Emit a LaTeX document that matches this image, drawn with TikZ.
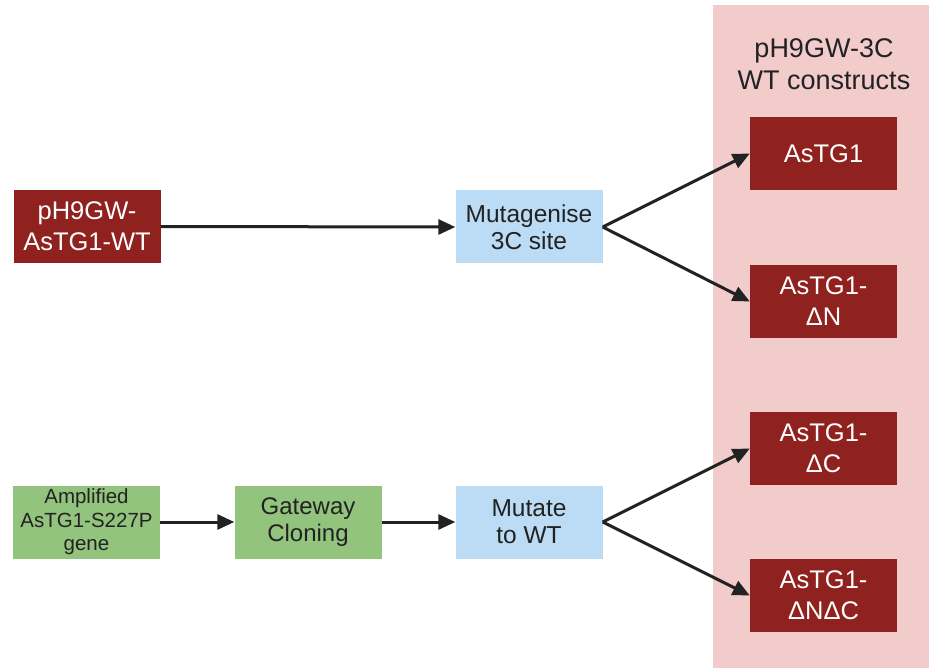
\documentclass[tikz,border=0pt]{standalone}
\usepackage{fontspec}
\setmainfont{Liberation Sans}
\usetikzlibrary{arrows.meta}
\definecolor{dred}{HTML}{8F211F}
\definecolor{pinkbg}{HTML}{F2CBCB}
\definecolor{lblue}{HTML}{BBDCF4}
\definecolor{lgreen}{HTML}{93C47D}
\definecolor{ink}{HTML}{222222}
\tikzset{
  box/.style={rectangle, inner sep=0pt, minimum width=147pt, minimum height=73pt, align=center},
  redbox/.style={box, fill=dred, text=white, font=\fontsize{25.5}{31}\selectfont},
  bluebox/.style={box, fill=lblue, text=ink, font=\fontsize{24.5}{27}\selectfont},
  greenbox/.style={box, fill=lgreen, text=ink, font=\fontsize{24}{27}\selectfont},
  arr/.style={draw=ink, line width=3pt, -{Triangle[length=17pt,width=15pt]}}
}
\begin{document}
\begin{tikzpicture}[x=1pt,y=-1pt]
\useasboundingbox (0,0) rectangle (929,668);
\fill[pinkbg] (713,5) rectangle (929,668);
\node[align=center, text=ink, font=\fontsize{27}{32}\selectfont] (title) at (824,64) {pH9GW-3C\\WT constructs};
\node[redbox] (a1) at (823.5,153.5) {AsTG1};
\node[redbox] (dn) at (823.5,301.5) {AsTG1-\\ΔN};
\node[redbox] (dc) at (823.5,448.5) {AsTG1-\\ΔC};
\node[redbox] (dnc) at (823.5,595.5) {AsTG1-\\ΔNΔC};
\node[redbox] (wt) at (87,226.5) {pH9GW-\\AsTG1-WT};
\node[bluebox] (mg) at (529,227) {Mutagenise\\3C site};
\node[greenbox, font=\fontsize{20.5}{23.5}\selectfont] (amp) at (86.5,522) {Amplified\\AsTG1-S227P\\gene};
\node[greenbox] (gw) at (308,522) {Gateway\\Cloning};
\node[bluebox] (mt) at (529,522) {Mutate\\to WT};
\draw[arr] (wt.east) -- (mg.west);
\draw[arr] (mg.east) -- (a1.west);
\draw[arr] (mg.east) -- (dn.west);
\draw[arr] (amp.east) -- (gw.west);
\draw[arr] (gw.east) -- (mt.west);
\draw[arr] (mt.east) -- (dc.west);
\draw[arr] (mt.east) -- (dnc.west);
\end{tikzpicture}
\end{document}
